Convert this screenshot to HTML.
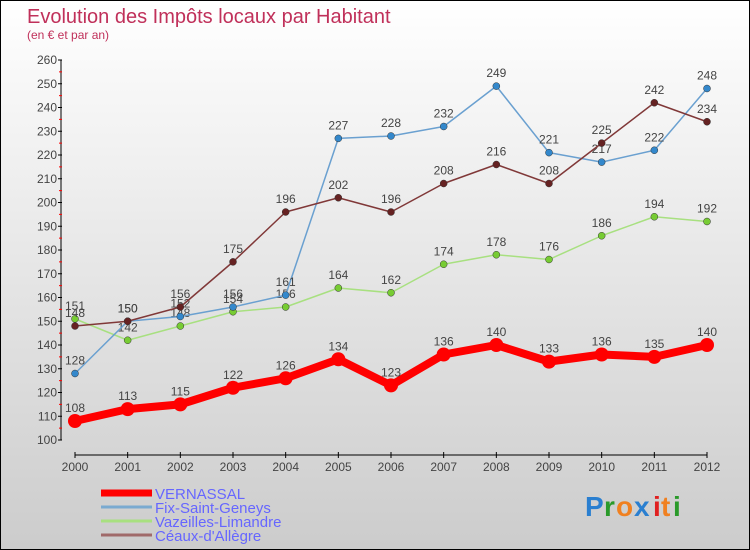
<!DOCTYPE html>
<html><head><meta charset="utf-8"><style>
body{margin:0}
#c{width:748px;height:548px;border:1px solid #000;background:linear-gradient(#fff,#ccc);position:relative;overflow:hidden;font-family:"Liberation Sans",sans-serif}
</style></head><body>
<div id="c">
<svg id="s" width="748" height="548" xmlns="http://www.w3.org/2000/svg">
<text x="26" y="22" font-size="20" fill="#c0305a">Evolution des Impôts locaux par Habitant</text>
<text x="26" y="38" font-size="12" fill="#c0305a">(en € et par an)</text>
<g id="axes"></g><g id="series"></g><g id="legend"></g>
<g font-size="28" font-weight="bold" font-family="'Liberation Sans',sans-serif">
<text x="584" y="515" fill="#2a7fd0">P</text><text x="603" y="515" fill="#2a9a2a">r</text><text x="615" y="515" fill="#f08020">o</text><text x="633" y="515" fill="#2a7fd0">x</text><text x="652" y="515" fill="#e02020">i</text><text x="660" y="515" fill="#f08020">t</text><text x="672" y="515" fill="#2a9a2a">i</text>
</g>
</svg>
</div>
<script>
const years=[2000,2001,2002,2003,2004,2005,2006,2007,2008,2009,2010,2011,2012];
const vernassal=[108,113,115,122,126,134,123,136,140,133,136,135,140];
const fix=[128,150,152,156,161,227,228,232,249,221,217,222,248];
const vazeilles=[151,142,148,154,156,164,162,174,178,176,186,194,192];
const ceaux=[148,150,156,175,196,202,196,208,216,208,225,242,234];
const yTicks=[100,110,120,130,140,150,160,170,180,190,200,210,220,230,240,250,260];
const NS="http://www.w3.org/2000/svg";
const X=i=>74+i*(632/12);
const Y=v=>439-(v-100)*(380/160);
function mk(t,a,p){const e=document.createElementNS(NS,t);for(const k in a)e.setAttribute(k,a[k]);p.appendChild(e);return e;}
const ax=document.getElementById('axes');
let l=mk('line',{x1:60,y1:Y(260),x2:60,y2:Y(100),stroke:'#000'},ax);

l=mk('line',{x1:74,y1:454,x2:706,y2:454,stroke:'#000'},ax);

yTicks.forEach((v,i)=>{
 mk('line',{x1:57,x2:61,y1:Y(v),y2:Y(v),stroke:'#000'},ax);
 if(i<yTicks.length-1)mk('line',{x1:58,x2:61,y1:Y(v+5),y2:Y(v+5),stroke:'#f00'},ax);
 const t=mk('text',{x:56,y:Y(v)+4,'font-size':12,'text-anchor':'end',fill:'#444'},ax);t.textContent=v;
 
});
years.forEach((y,i)=>{
 mk('line',{x1:X(i),x2:X(i),y1:451,y2:457,stroke:'#000'},ax);
 const t=mk('text',{x:X(i),y:470,'font-size':12,'text-anchor':'middle',fill:'#444'},ax);t.textContent=y;
 
});
const sg=document.getElementById('series');
function draw(data,color,w,r,name,dot){
 const g=mk('g',{},sg);
 
 mk('polyline',{points:data.map((v,i)=>X(i)+','+Y(v)).join(' '),fill:'none',stroke:color,'stroke-width':w,'stroke-linejoin':'round'},g);
 data.forEach((v,i)=>{
  const c=mk('circle',{cx:X(i),cy:Y(v),r:r,fill:dot,stroke:w>3?'none':'#333','stroke-width':0.5},g);
  
  const t=mk('text',{x:X(i),y:Y(v)-9,'font-size':12,'text-anchor':'middle',fill:'#444'},g);t.textContent=v;
 });
}
draw(vazeilles,'#a8e080',1.5,3.5,'series-vazeilles','#7c3');
draw(fix,'#6aa0d0',1.5,3.5,'series-fix-saint-geneys','#38c');
draw(ceaux,'#803838',1.5,3.5,'series-ceaux-dallegre','#622');
draw(vernassal,'#f00',8,7,'series-vernassal','#f00');
const lg=document.getElementById('legend');
[['VERNASSAL','#f00',7],['Fix-Saint-Geneys','#7aaad0',3],['Vazeilles-Limandre','#a8e080',3],['Céaux-d\'Allègre','#a06a6a',3]].forEach((e,i)=>{
 const y=492+i*14;
 const g=mk('g',{},lg);
 
 mk('line',{x1:100,x2:151,y1:y,y2:y,stroke:e[1],'stroke-width':e[2]},g);
 const t=mk('text',{x:154,y:y+6,'font-size':15,fill:'#66f'},g);t.textContent=e[0];
});
</script>
</body></html>
